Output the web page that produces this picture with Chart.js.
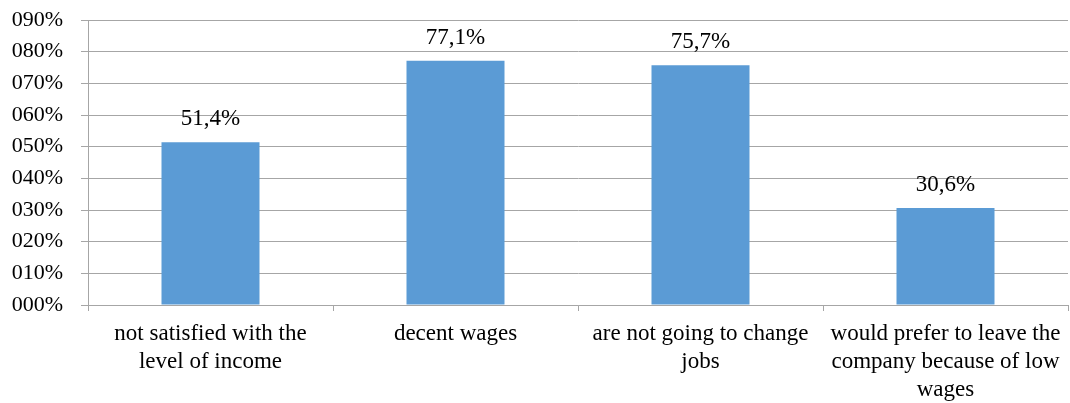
<!DOCTYPE html>
<html>
<head>
<meta charset="utf-8">
<script src="https://cdn.jsdelivr.net/npm/chart.js@4"></script>
<style>
  html, body { margin: 0; padding: 0; background: #fff; }
  #wrap { width: 1070px; height: 403px; }
</style>
</head>
<body>
<div id="wrap"><canvas id="myChart" width="1070" height="403"></canvas></div>
<script>
var CATEGORIES = [
  ['not satisfied with the', 'level of income'],
  ['decent wages'],
  ['are not going to change', 'jobs'],
  ['would prefer to leave the', 'company because of low', 'wages']
];
var SHARES = [51.4, 77.1, 75.7, 30.6];
var Y_TICKS = ['000%', '010%', '020%', '030%', '040%', '050%', '060%', '070%', '080%', '090%'];

var FONT = "'Liberation Serif', 'Times New Roman', serif";

// value labels above each bar, comma as decimal separator
var barLabels = {
  id: 'barLabels',
  afterDatasetsDraw: function (chart) {
    var c = chart.ctx;
    var meta = chart.getDatasetMeta(0);
    c.save();
    c.font = '23px ' + FONT;
    c.fillStyle = '#000';
    c.textAlign = 'center';
    c.textBaseline = 'alphabetic';
    meta.data.forEach(function (bar, i) {
      var txt = SHARES[i].toFixed(1).replace('.', ',') + '%';
      c.fillText(txt, bar.x, bar.y - 17);
    });
    c.restore();
  }
};

const ctx = document.getElementById('myChart');
new Chart(ctx, {
  type: 'bar',
  data: {
    labels: CATEGORIES,
    datasets: [{
      data: SHARES,
      backgroundColor: '#5b9bd5',
      borderWidth: 0,
      barPercentage: 0.4,
      categoryPercentage: 1
    }]
  },
  options: {
    responsive: false,
    animation: false,
    layout: {
      padding: { top: 20, right: 2, left: 0, bottom: 0 }
    },
    plugins: {
      legend: { display: false },
      tooltip: { enabled: false }
    },
    scales: {
      x: {
        grid: {
          offset: true,
          drawOnChartArea: false,
          tickLength: 6,
          color: '#a6a6a6'
        },
        border: { color: '#a6a6a6' },
        ticks: {
          color: '#000',
          font: { family: FONT, size: 23, lineHeight: 1.22 },
          maxRotation: 0,
          autoSkip: false,
          padding: 9
        },
        afterFit: function (axis) {
          axis.height = 98;
          axis.paddingLeft = 0;
          axis.paddingRight = 0;
        }
      },
      y: {
        min: 0,
        max: 90,
        grid: {
          color: '#a6a6a6',
          tickLength: 7
        },
        border: { color: '#a6a6a6' },
        ticks: {
          stepSize: 10,
          color: '#000',
          font: { family: FONT, size: 22 },
          padding: 18,
          callback: function (v, i) { return Y_TICKS[i]; }
        },
        afterFit: function (axis) {
          axis.width = 88;
          axis.paddingTop = 0;
          axis.paddingBottom = 0;
        }
      }
    }
  },
  plugins: [barLabels]
});
</script>
</body>
</html>
